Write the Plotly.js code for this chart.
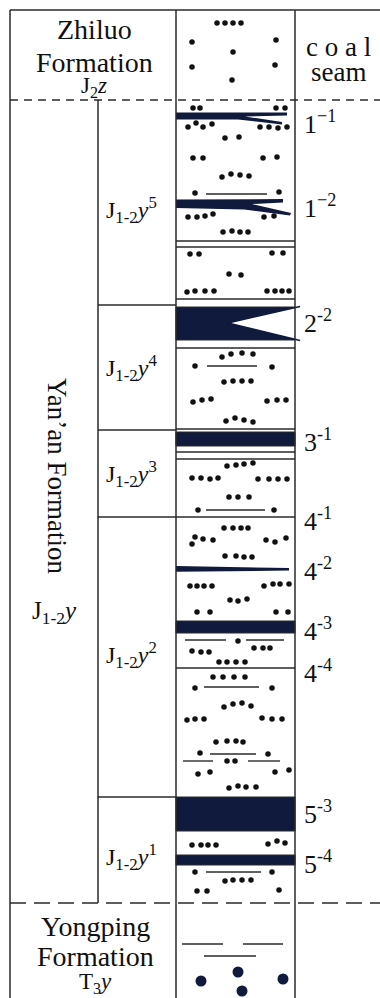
<!DOCTYPE html>
<html><head><meta charset="utf-8">
<script src="https://cdn.plot.ly/plotly-3.0.1.min.js"></script>
<style>html,body{margin:0;padding:0;background:#fff;}#chart{width:380px;height:998px;}</style>
</head><body><div id="chart"></div>
<script>
// ---- Stratigraphic data (depth axis units, top of column = 10) ----
const formationNames = [["Zhiluo", "Formation"], ["Yan\u2019an Formation"], ["Yongping", "Formation"]];
const formationCodes = ["J<sub>2</sub><i>z</i>", "J<sub>1-2</sub><i>y</i>", "T<sub>3</sub><i>y</i>"];
const formationTops = [10, 100, 903];
const formationBottoms = [100, 903, 998];

const memberCodes = ["J<sub>1-2</sub><i>y</i><sup>5</sup>", "J<sub>1-2</sub><i>y</i><sup>4</sup>", "J<sub>1-2</sub><i>y</i><sup>3</sup>", "J<sub>1-2</sub><i>y</i><sup>2</sup>", "J<sub>1-2</sub><i>y</i><sup>1</sup>"];
const memberTops = [100, 305, 430, 517, 797];
const memberBottoms = [305, 430, 517, 797, 903];
const memberLabelDepths = [210, 368, 474, 655, 857];

const seamNames = ["1<sup>\u22121</sup>", "1<sup>\u22122</sup>", "2<sup>-2</sup>", "3<sup>-1</sup>", "4<sup>-1</sup>", "4<sup>-2</sup>", "4<sup>-3</sup>", "4<sup>-4</sup>", "5<sup>-3</sup>", "5<sup>-4</sup>"];
const seamLabelDepths = [122, 206, 321, 440, 519, 569, 629, 671, 812, 862];

// coal bands drawn as full-width rectangles
const coalBandTops = [307, 432, 621, 797, 855];
const coalBandBottoms = [340, 446, 633, 831, 865];

// bedding lines across the lithology column
const beddingDepths = [241, 247, 299, 348, 429, 452, 459, 517, 668];

// splitting / pinching coal seams (outline vertices x,y)
const seam11Outline = [[176,112.5],[287,112.5],[287,115.5],[245,116.5],[282,122],[282,124.5],[238,119.5],[176,119.5]];
const seam12Outline = [[176,199.5],[283,199],[283,202.5],[252,204],[291,213],[290,215.5],[244,209.5],[176,208]];
const seam42Outline = [[176,566],[289,568],[289,570.5],[176,571.8]];
const seam22Notch = [[228,323],[300,306.5],[300,340.5]];

// sandstone dots
const dotX = [217,225,233,241,192,276,233,192,275,232,
193,200,276,285,188,196,203,212,260,269,278,287,225,239,193,203,263,277,222,231,240,249,195,279,188,197,205,213,264,274,223,232,240,248,190,199,272,283,229,241,187,195,205,214,267,275,282,289,
222,231,242,253,195,272,224,233,242,251,193,202,211,267,277,286,226,235,244,253,
227,236,244,253,192,201,210,218,258,269,278,287,229,238,249,198,274,
224,233,241,248,192,195,203,213,266,275,286,225,236,244,252,190,197,204,212,264,273,280,289,230,238,247,197,210,276,288,238,192,201,209,254,263,270,219,227,236,245,213,223,234,245,195,272,224,233,242,251,187,195,204,262,272,282,216,227,236,243,200,268,227,235,198,210,275,289,229,238,246,256,
192,201,208,216,268,277,285,195,272,225,233,242,251,197,207,279];
const dotY = [23,23,23,23,42,40,52,67,65,80,
108,108,108,108,127,123,127,124,127,127,128,127,138,137,158,158,158,157,177,174,175,176,193,192,217,217,216,214,217,216,232,231,232,232,254,254,253,253,274,275,292,291,291,291,291,291,291,291,
357,354,353,354,366,367,382,381,381,381,402,400,399,401,400,400,421,418,420,422,
466,465,464,463,478,478,479,478,479,479,479,479,497,497,497,510,510,
528,528,528,528,544,537,539,540,540,542,538,556,556,557,557,586,586,586,586,586,584,584,584,600,601,599,612,612,612,612,641,651,652,652,648,648,648,662,662,662,662,677,677,677,677,688,688,707,704,703,706,720,719,719,718,719,719,742,741,741,742,753,754,761,761,774,772,772,770,788,786,787,787,
845,845,845,845,844,841,843,872,872,881,880,880,880,891,891,890];

// siltstone dashes: [x0, x1, depth]
const siltLines = [[206,267,194],[207,257,366],[206,265,510],[185,226,640],[246,284,640],[204,259,687],[210,256,754],[183,213,761],[248,280,761],[206,261,872],[182,223,944],[243,283,944],[204,256,956]];

// conglomerate pebbles
const pebbleX = [201,238,242,283];
const pebbleY = [981,972,991,979];

// ---- drawing ----
const COAL = '#0f1a3d', INK = '#2a2a2a';
const FONT = 'Liberation Serif';
const shapes = [];
const L = (x0,y0,x1,y1,opt={}) => shapes.push(Object.assign({type:'line',xref:'x',yref:'y',x0,y0,x1,y1,line:{color:INK,width:1.5}},opt));
const poly = (pts, fill) => shapes.push({type:'path',xref:'x',yref:'y',path:'M'+pts.map(p=>p[0]+','+p[1]).join('L')+'Z',fillcolor:fill,line:{width:0}});

coalBandTops.forEach((t,i)=>shapes.push({type:'rect',xref:'x',yref:'y',x0:176,x1:295,y0:t,y1:coalBandBottoms[i],fillcolor:COAL,line:{color:INK,width:1}}));
poly(seam22Notch,'#ffffff');
L(seam22Notch[0][0],seam22Notch[0][1],seam22Notch[1][0],seam22Notch[1][1],{line:{color:COAL,width:1.5}});
L(seam22Notch[0][0],seam22Notch[0][1],seam22Notch[2][0],seam22Notch[2][1],{line:{color:COAL,width:1.5}});
[seam11Outline, seam12Outline, seam42Outline].forEach(o=>poly(o,COAL));
beddingDepths.forEach(d=>L(176,d,295,d,{line:{color:INK,width:1.3}}));
siltLines.forEach(s=>L(s[0],s[2],s[1],s[2],{line:{color:INK,width:1.4}}));

L(10,10,380,10); L(10,10,10,998); L(176,10,176,998); L(295,10,295,998);
L(10,formationBottoms[0],380,formationBottoms[0],{line:{color:INK,width:1.5,dash:'8px,6px'}});
L(10,formationBottoms[1],380,formationBottoms[1],{line:{color:INK,width:1.5,dash:'16px,8px'}});
L(98,memberTops[0],98,memberBottoms[memberBottoms.length-1]);
memberTops.slice(1).forEach(t=>L(98,t,176,t));

const ann = [];
const A = (x,y,text,size,opt={}) => ann.push(Object.assign({x,y,xref:'x',yref:'y',text,showarrow:false,xanchor:'center',yanchor:'middle',borderpad:0,font:{family:FONT,size,color:'#111'}},opt));

A(94,29,formationNames[0][0],28);
A(94,62,formationNames[0][1],28);
A(94,87,formationCodes[0],23);
A(57,476,formationNames[1][0],27,{textangle:90});
A(54,612,formationCodes[1],25);
A(95,926,formationNames[2][0],28);
A(95,956,formationNames[2][1],28);
A(95,983,formationCodes[2],23);

A(338,47,'c o a l',27);
A(338,72,'seam',27);

memberCodes.forEach((c,i)=>A(131,memberLabelDepths[i],c,24));
seamNames.forEach((s,i)=>A(303,seamLabelDepths[i],s,26,{xanchor:'left'}));

const traces = [
  {x:dotX,y:dotY,type:'scatter',mode:'markers',marker:{size:5.5,color:'#111'},hoverinfo:'skip'},
  {x:pebbleX,y:pebbleY,type:'scatter',mode:'markers',marker:{size:11,color:COAL},hoverinfo:'skip'}
];

Plotly.newPlot('chart',traces,{
  width:380,height:998,margin:{l:0,r:0,t:0,b:0},
  paper_bgcolor:'#fff',plot_bgcolor:'#fff',showlegend:false,
  xaxis:{range:[0,380],visible:false,fixedrange:true},
  yaxis:{range:[998,0],visible:false,fixedrange:true},
  shapes:shapes,annotations:ann
},{staticPlot:true,displayModeBar:false});
</script></body></html>
